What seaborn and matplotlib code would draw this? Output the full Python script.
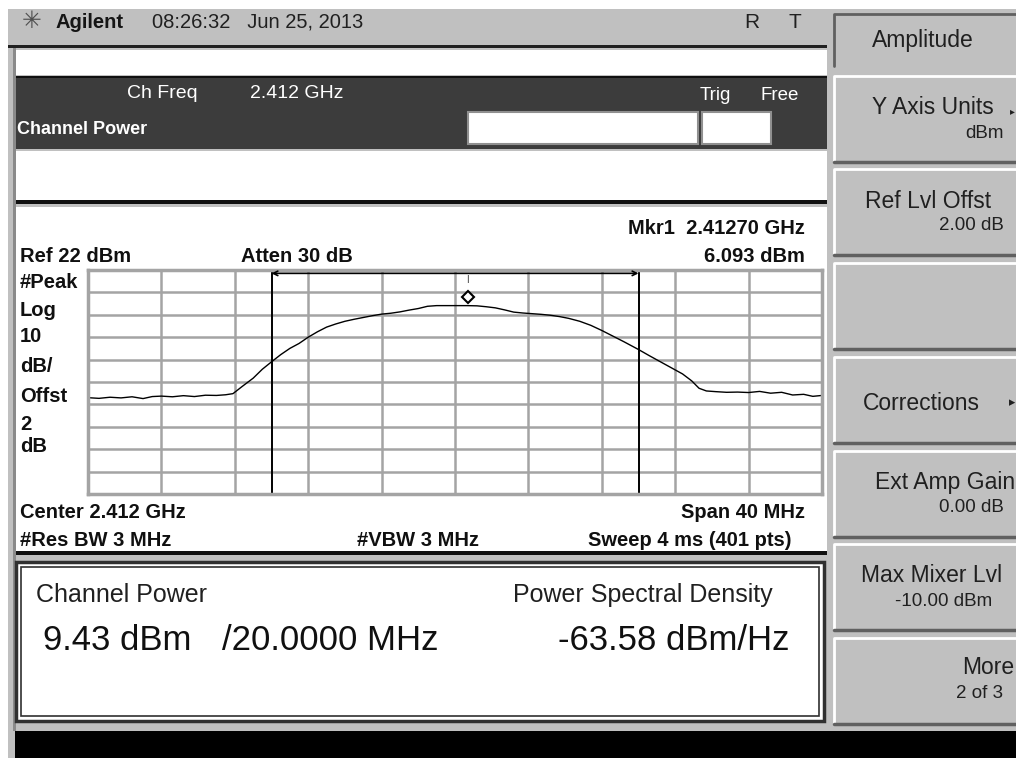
import matplotlib
matplotlib.use("Agg")
import matplotlib.pyplot as plt
import matplotlib.transforms as mtransforms
from matplotlib.patches import Rectangle
import seaborn as sns

# spectrum analyzer settings
center_ghz = 2.412
span_mhz = 40
ref_level = 22
db_per_div = 10
chan_bw_mhz = 20

# trace (offset from center in MHz, level in dBm)
freq_mhz = [-20, -19.4, -18.8, -18.2, -17.6, -17.0, -16.5, -16.0, -15.4, -14.8,
            -14.2, -13.6, -13.0, -12.5, -12.1, -11.6, -11.0, -10.5, -10.0, -9.5,
            -9.0, -8.5, -8.0, -7.5, -7.0, -6.5, -6.0, -5.5, -5.0, -4.5,
            -4.0, -3.5, -3.0, -2.5, -2.0, -1.5, -1.0, -0.5, 0.0, 0.7,
            1.2, 1.7, 2.2, 2.7, 3.2, 3.7, 4.2, 4.7, 5.2, 5.7,
            6.2, 6.8, 7.4, 8.0, 8.6, 9.2, 10.0, 10.6, 11.2, 11.8,
            12.4, 12.9, 13.3, 13.7, 14.2, 14.8, 15.4, 16.0, 16.6, 17.2,
            17.8, 18.4, 19.0, 19.5, 20.0]
level_dbm = [-35.0, -35.3, -34.8, -35.1, -34.6, -35.4, -34.5, -34.3, -34.6, -34.1,
             -34.5, -33.9, -34.0, -33.7, -33.2, -30.0, -26.3, -22.3, -19.0, -15.8,
             -13.0, -10.8, -8.0, -5.6, -3.5, -2.1, -0.9, 0.0, 0.8, 1.6,
             2.3, 2.7, 3.3, 4.1, 4.8, 5.8, 6.1, 6.1, 6.1, 6.09,
             6.0, 5.6, 5.1, 4.2, 3.2, 2.8, 2.5, 2.2, 1.8, 1.2,
             0.4, -0.9, -2.7, -5.0, -7.5, -10.0, -13.5, -16.3, -19.0, -21.7,
             -24.4, -27.5, -30.8, -32.0, -32.3, -32.6, -32.5, -32.7, -32.2, -33.0,
             -32.6, -33.8, -33.5, -34.4, -34.0]

mkr_freq_ghz = 2.41270
mkr_level = 6.093

softkeys = [("Y Axis Units", "dBm"), ("Ref Lvl Offst", "2.00 dB"), ("", ""),
            ("Corrections", ""), ("Ext Amp Gain", "0.00 dB"),
            ("Max Mixer Lvl", "-10.00 dBm"), ("More", "2 of 3")]

sns.set_style("white")
plt.rcParams['font.family'] = ['Liberation Sans', 'DejaVu Sans']

GRAY = "#c0c0c0"
DARK = "#3c3c3c"

fig = plt.figure(figsize=(10.16, 7.58), dpi=100, facecolor="white")
bg = fig.add_axes([0, 0, 1, 1])
bg.set_xlim(0, 1016)
bg.set_ylim(758, 0)
bg.axis("off")


def box(x0, y0, x1, y1, fc, ec="none", lw=0, z=1):
    bg.add_patch(Rectangle((x0, y0), x1 - x0, y1 - y0, facecolor=fc,
                           edgecolor=ec, linewidth=lw, zorder=z))


def txt(x, y, s, size=12, **kw):
    bg.text(x, y, s, fontsize=size, va="center", zorder=5, **kw)


# frame and panels
box(8, 9, 1016, 758, GRAY)
box(8, 45, 827, 48, "#202020", z=2)
box(13, 48, 16, 731, "#8a8a8a", z=2)
box(16, 50, 827, 75, "white", z=2)
box(16, 76, 827, 149, DARK, z=2)
box(16, 76, 827, 78, "#101010", z=3)
box(16, 151, 827, 200, "white", z=2)
box(16, 200, 827, 204, "#101010", z=3)
box(16, 207, 827, 551, "white", z=2)
box(16, 551, 827, 555, "#101010", z=3)
box(16, 562, 824, 721, "white", ec="#303030", lw=2.5, z=2)
box(21, 567, 819, 716, "none", ec="#303030", lw=1.2, z=3)
box(15, 731, 1016, 758, "black", z=2)

# title bar
txt(22, 22, "✳", size=17, color="#505050")
txt(55, 22, "Agilent", size=14.5, weight="bold", color="#151515")
txt(152, 22, "08:26:32   Jun 25, 2013", size=14.5, color="#202020")
txt(752, 22, "R", size=15, ha="center", color="#202020")
txt(795, 22, "T", size=15, ha="center", color="#202020")

# measurement header
txt(127, 93, "Ch Freq", size=14, color="white")
txt(250, 93, "2.412 GHz", size=14, color="white")
txt(17, 130, "Channel Power", size=13, color="white", weight="bold")
txt(700, 95, "Trig", size=13.5, color="white")
txt(760, 95, "Free", size=13.5, color="white")
box(468, 112, 698, 144, "white", ec="#909090", lw=1.5, z=3)
box(702, 112, 771, 144, "white", ec="#909090", lw=1.5, z=3)

# annotations around the graticule
b = dict(size=14.5, weight="bold", color="#101010")
txt(805, 228, f"Mkr1  {mkr_freq_ghz:.5f} GHz", ha="right", **b)
txt(805, 256, f"{mkr_level:.3f} dBm", ha="right", **b)
txt(20, 256, f"Ref {ref_level} dBm", **b)
txt(241, 256, "Atten 30 dB", **b)
for y, s in zip([282, 310, 337, 366, 397, 424, 446],
                ["#Peak", "Log", f"{db_per_div}", "dB/", "Offst", "2", "dB"]):
    txt(20, y, s, **b)
txt(20, 512, f"Center {center_ghz} GHz", **b)
txt(805, 512, f"Span {span_mhz} MHz", ha="right", **b)
txt(20, 541, "#Res BW 3 MHz", **b)
txt(357, 541, "#VBW 3 MHz", **b)
txt(792, 541, "Sweep 4 ms (401 pts)", ha="right", **b)

# result panel
txt(36, 595, "Channel Power", size=18, color="#202020")
txt(513, 595, "Power Spectral Density", size=18, color="#202020")
txt(43, 641, "9.43 dBm", size=25, color="#101010")
txt(222, 641, "/20.0000 MHz", size=25, color="#101010")
txt(558, 641, "-63.58 dBm/Hz", size=25, color="#101010")

# softkeys
box(833, 13, 1016, 66, GRAY, z=2)
bg.plot([834, 834, 1016], [66, 14, 14], color="#606060", lw=2, zorder=3)
txt(923, 40, "Amplitude", size=16.5, ha="center", color="#202020")
tops = [75, 168, 262, 356, 450, 543, 637]
for (main, sub), top in zip(softkeys, tops):
    bot = top + 87
    box(833, top, 1016, bot, GRAY, z=2)
    bg.plot([834, 834, 1016], [bot, top + 1, top + 1], color="white", lw=2, zorder=3)
    bg.plot([834, 1016], [bot, bot], color="#606060", lw=2.5, zorder=3)
    if not sub:
        if main:
            txt(921, top + 47, main, size=16.5, ha="center", color="#202020")
            txt(1012, top + 47, "▸", size=9, ha="center", color="#202020")
        continue
    if main == "More":
        txt(1014, top + 31, main, size=16.5, ha="right", color="#202020")
        txt(1003, top + 56, sub, size=13.5, ha="right", color="#202020")
        continue
    cx = {"Y Axis Units": 933, "Ref Lvl Offst": 928, "Ext Amp Gain": 945,
          "Max Mixer Lvl": 932}[main]
    txt(cx, top + 33, main, size=16.5, ha="center", color="#202020")
    if sub == "-10.00 dBm":
        txt(944, top + 58, sub, size=13.5, ha="center", color="#202020")
    else:
        txt(1004, top + 58, sub, size=13.5, ha="right", color="#202020")
    if main == "Y Axis Units":
        txt(1012, top + 36, "▸", size=7, ha="center", color="#202020")

# graticule
W, H = 1016, 758
ax = fig.add_axes([88 / W, 1 - 494 / H, 734 / W, 224 / H])
ax.set_zorder(4)
ax.set_xlim(-span_mhz / 2, span_mhz / 2)
ax.set_ylim(ref_level - 10 * db_per_div, ref_level)
ax.set_xticks([-span_mhz / 2 + i * span_mhz / 10 for i in range(11)])
ax.set_yticks([ref_level - i * db_per_div for i in range(11)])
ax.grid(True, color="#a4a4a4", lw=1.8)
ax.tick_params(length=0, labelbottom=False, labelleft=False)
for sp in ax.spines.values():
    sp.set_color("#a4a4a4")
    sp.set_linewidth(2.5)

sns.lineplot(x=freq_mhz, y=level_dbm, ax=ax, color="black", linewidth=1.0)

# channel integration bandwidth
for f in (-chan_bw_mhz / 2, chan_bw_mhz / 2):
    ax.axvline(f, color="black", lw=1.4)
top_y = mtransforms.blended_transform_factory(ax.transData, ax.transAxes)
ax.annotate("", xy=(-chan_bw_mhz / 2, 0.985), xytext=(chan_bw_mhz / 2, 0.985),
            xycoords=top_y, textcoords=top_y,
            arrowprops=dict(arrowstyle="<->", color="black", lw=1.2,
                            mutation_scale=8, shrinkA=0, shrinkB=0))

# marker 1
mkr_x = (mkr_freq_ghz - center_ghz) * 1000
above = mtransforms.offset_copy(ax.transData, fig=fig, y=8.5, units="dots")
ax.plot([mkr_x], [mkr_level], marker="D", ms=6.5, mfc="white", mec="black",
        mew=1.5, transform=above, clip_on=False)
ax.text(mkr_x, 0.955, "I", transform=top_y, fontsize=7, ha="center",
        va="center", color="#404040")

fig.savefig("out.png", dpi=100, facecolor="white")
